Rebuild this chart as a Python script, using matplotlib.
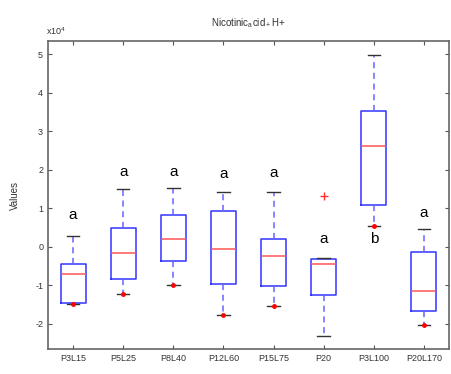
import matplotlib
matplotlib.use("Agg")
import matplotlib.pyplot as plt

plt.rcParams["font.family"] = ["Liberation Sans", "DejaVu Sans"]
plt.rcParams["axes.unicode_minus"] = False
plt.rcParams["mathtext.fontset"] = "custom"
plt.rcParams["mathtext.rm"] = "Liberation Sans"

# values in units of 1e4
groups = ["P3L15", "P5L25", "P8L40", "P12L60", "P15L75", "P20", "P3L100", "P20L170"]
whis_hi = [0.29, 1.51, 1.53, 1.43, 1.43, -0.29, 4.99, 0.47]
q3 = [-0.44, 0.49, 0.83, 0.93, 0.21, -0.31, 3.53, -0.13]
median = [-0.70, -0.16, 0.21, -0.06, -0.23, -0.44, 2.62, -1.14]
q1 = [-1.45, -0.84, -0.37, -0.96, -1.01, -1.25, 1.09, -1.66]
whis_lo = [-1.48, -1.23, -0.99, -1.77, -1.53, -2.31, 0.55, -2.03]
outliers = [[], [], [], [], [], [1.32], [], []]
# red dots sitting on the lower whisker caps
low_dots = [-1.48, -1.23, -0.99, -1.77, -1.53, None, 0.55, -2.03]
letters = ["a", "a", "a", "a", "a", "a", "b", "a"]
letter_y = [0.83, 1.95, 1.95, 1.90, 1.92, 0.21, 0.21, 0.88]

stats = []
for i, g in enumerate(groups):
    stats.append(dict(label=g, med=median[i], q1=q1[i], q3=q3[i],
                      whislo=whis_lo[i], whishi=whis_hi[i], fliers=outliers[i]))

fig = plt.figure(figsize=(4.51, 3.74), dpi=100)
ax = fig.add_axes([48 / 451, 25 / 374, 401 / 451, 308 / 374])

ax.bxp(stats, widths=0.5, showfliers=True,
       boxprops=dict(color="#3333ff", lw=1.1),
       medianprops=dict(color="#ff5555", lw=1.1),
       whiskerprops=dict(color="#6666ff", lw=1.1, ls=(0, (4, 3))),
       capprops=dict(color="#333333", lw=1.0),
       flierprops=dict(marker="+", markeredgecolor="#ff3333", markersize=6, mew=1.0))

for i, v in enumerate(low_dots):
    if v is not None:
        ax.plot(i + 1, v, "o", color="red", ms=2.5)

for i, (t, y) in enumerate(zip(letters, letter_y)):
    ax.text(i + 1, y, t, ha="center", va="center", fontsize=11)

ax.set_xlim(0.5, 8.5)
ax.set_ylim(-2.65, 5.35)
ax.set_yticks(range(-2, 6))
ax.set_xticks(range(1, 9))
ax.set_xticklabels(groups)
ax.tick_params(direction="in", top=True, right=True, labelsize=6.5,
               length=3, color="#555555", labelcolor="#333333")
for s in ax.spines.values():
    s.set_color("#666666")
    s.set_linewidth(1.2)

ax.set_ylabel("Values", fontsize=7, color="#333333")
ax.yaxis.set_label_coords(-0.07, 0.5)
ax.set_title(r"Nicotinic$_\mathrm{a}$cid$_+$H+", fontsize=7, color="#333333", pad=11)
ax.text(-0.005, 1.012, r"x10$^4$", transform=ax.transAxes, fontsize=6.5,
        color="#333333", ha="left", va="bottom")

fig.savefig("out.png", dpi=100)
